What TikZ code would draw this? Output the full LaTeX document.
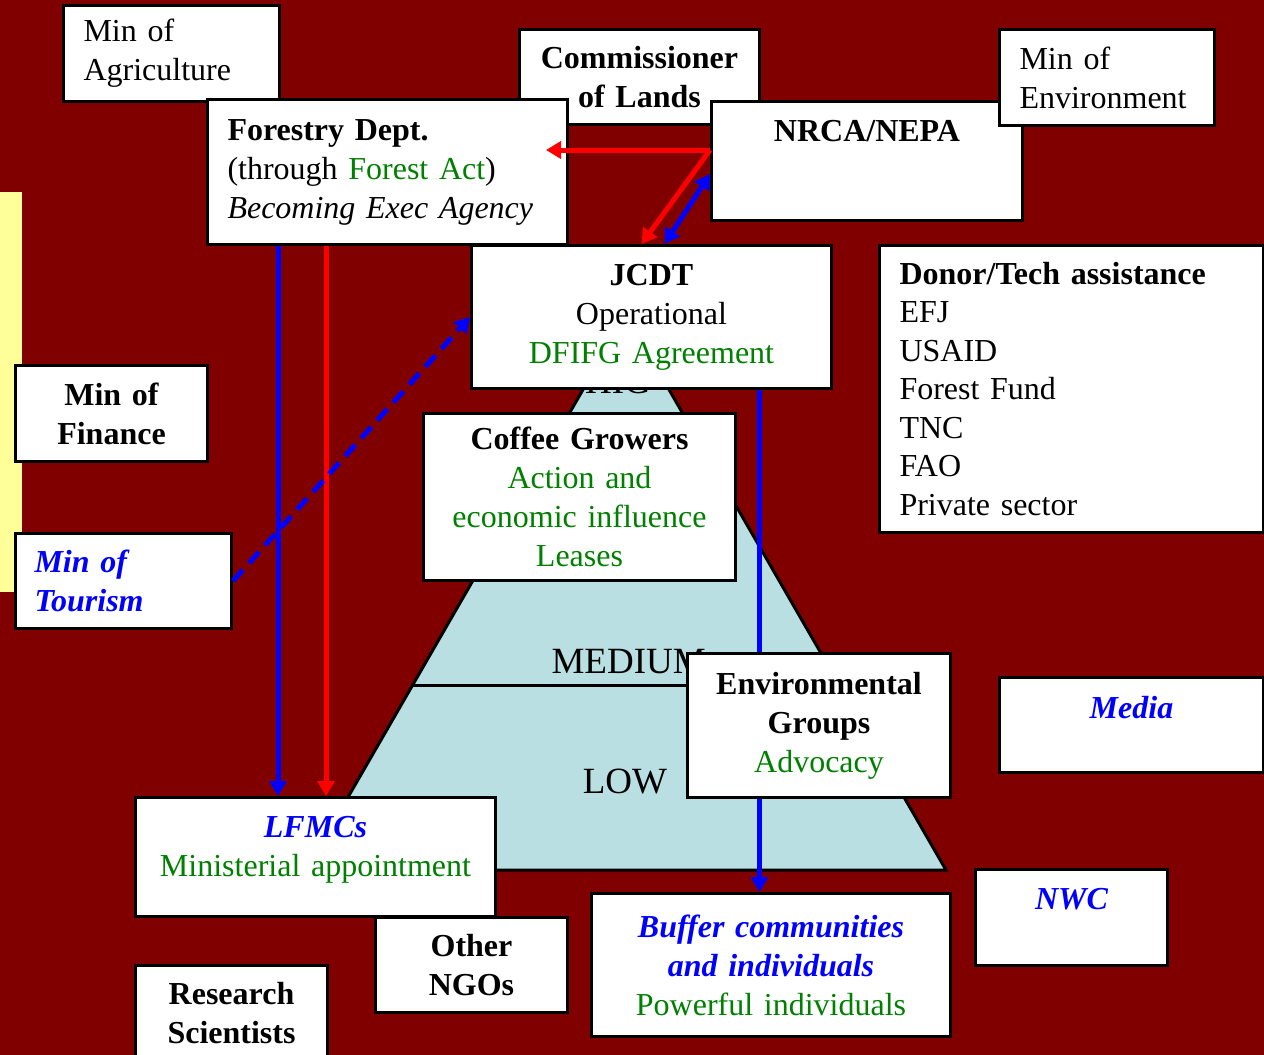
\documentclass[tikz,border=0pt]{standalone}
\usepackage{fontspec}
\setmainfont{Liberation Serif}
\usepackage{xcolor}
\usepackage{tikz}
\usetikzlibrary{arrows.meta,calc}
\definecolor{slidered}{RGB}{128,0,0}
\definecolor{pyramidblue}{RGB}{185,223,227}
\definecolor{noteyellow}{RGB}{255,255,153}
\definecolor{treegreen}{RGB}{0,128,0}
\newcommand{\actorname}[1]{\textcolor{blue}{\bfseries\itshape #1}}
\newcommand{\greennote}[1]{\textcolor{treegreen}{#1}}

\begin{document}
\begin{tikzpicture}[
    x=1pt, y=-1pt,
    font=\fontsize{32}{39}\selectfont,
    >={Triangle[length=15pt,width=17pt]},
    box/.style={draw=black, line width=3pt, fill=white, inner sep=0pt, anchor=north west},
    lbox/.style={box, align=left, inner xsep=20pt},
    cbox/.style={box, align=center, inner xsep=4pt},
    link/.style={line width=5pt, ->},
    level/.style={font=\fontsize{37}{40}\selectfont}
]
    % Background
    \useasboundingbox (0,0) rectangle (1264,1055);
    \fill[slidered] (0,0) rectangle (1264,1055);
    \fill[noteyellow] (0,192) rectangle (22,592);

    % Pyramid
    \coordinate (apex) at (626,315);
    \coordinate (baseR) at (946,870);
    \coordinate (baseL) at (306,870);
    \draw[line width=3pt, fill=pyramidblue] (apex) -- (baseR) -- (baseL) -- cycle;
    \draw[line width=3pt] ($(apex)!0.6667!(baseL)$) -- ($(apex)!0.6667!(baseR)$);
    \node[level, anchor=base] (hig) at (618,393) {HIG};
    \node[level, anchor=base west] (medium) at (548,673) {MEDIUM};
    \node[level, anchor=base] (low) at (625,793) {LOW};

    % Top row
    \node[lbox, text width=176pt, minimum height=96pt] (agri) at (62,4) {Min of\\Agriculture};
    \node[cbox, text width=232pt, minimum height=95pt, font=\fontsize{32}{39}\selectfont\bfseries] (lands) at (518,28) {Commissioner\\of Lands};
    \node[lbox, text width=320pt, minimum height=145pt] (forestry) at (206,98)
        {\textbf{Forestry Dept.}\\(through \greennote{Forest Act})\\\textit{Becoming Exec Agency}};
    \node[cbox, text width=303pt, text height=40pt, text depth=79pt, font=\fontsize{32}{39}\selectfont\bfseries] (nrca) at (710,100) {NRCA/NEPA};
    \node[lbox, text width=175pt, minimum height=96pt] (minenv) at (998,28) {Min of\\Environment};

    % Middle
    \node[cbox, text width=352pt, minimum height=143pt] (jcdt) at (470,244)
        {\textbf{JCDT}\\Operational\\\greennote{DFIFG Agreement}};
    \node[lbox, text width=344pt, minimum height=287pt, font=\fontsize{32}{38.5}\selectfont] (donor) at (878,244)
        {\textbf{Donor/Tech assistance}\\EFJ\\USAID\\Forest Fund\\TNC\\FAO\\Private sector};
    \node[cbox, text width=184pt, minimum height=96pt, font=\fontsize{32}{39}\selectfont\bfseries] (finance) at (14,364) {Min of\\Finance};
    \node[lbox, inner xsep=19pt, text width=178pt, minimum height=95pt] (tourism) at (14,532) {\actorname{Min of}\\\actorname{Tourism}};
    \node[cbox, text width=304pt, minimum height=167pt] (coffee) at (422,412)
        {\textbf{Coffee Growers}\\\greennote{Action and}\\\greennote{economic influence}\\\greennote{Leases}};

    % Bottom
    \node[cbox, text width=256pt, text height=41pt, text depth=54pt] (media) at (998,676) {\actorname{Media}};
    \node[cbox, text width=352pt, text height=40pt, text depth=79pt] (lfmc) at (134,796)
        {\actorname{LFMCs}\\\greennote{Ministerial appointment}};
    \node[cbox, text width=184pt, text height=40pt, text depth=56pt] (nwc) at (974,868) {\actorname{NWC}};
    \node[cbox, text width=351pt, minimum height=143pt] (buffer) at (590,892)
        {\actorname{Buffer communities}\\\actorname{and individuals}\\\greennote{Powerful individuals}};
    \node[cbox, text width=184pt, minimum height=95pt, font=\fontsize{32}{39}\selectfont\bfseries] (ngos) at (374,916) {Other\\NGOs};
    \node[cbox, text width=184pt, minimum height=96pt, font=\fontsize{32}{39}\selectfont\bfseries] (research) at (134,964) {Research\\Scientists};

    % JCDT down to buffer communities (behind Environmental Groups)
    \coordinate (jcdtout) at ([xshift=108pt]jcdt.south);
    \draw[link, blue] (jcdtout) -- (jcdtout |- buffer.north);
    \node[cbox, text width=255pt, minimum height=144pt] (envgroups) at (686,652)
        {\textbf{Environmental}\\\textbf{Groups}\\\greennote{Advocacy}};

    % Forestry Dept. down to LFMCs
    \coordinate (fdblue) at ([xshift=72pt]forestry.south west);
    \coordinate (fdred) at ([xshift=120pt]forestry.south west);
    \draw[link, blue] (fdblue) -- (fdblue |- lfmc.north);
    \draw[link, red] (fdred) -- (fdred |- lfmc.north);

    % NRCA/NEPA links
    \coordinate (nrcared) at ([yshift=11pt]nrca.west);
    \coordinate (nrcablue) at ([yshift=-13pt]nrca.west);
    \draw[link, red] (nrcared) -- ([xshift=-23pt]forestry.east |- nrcared);
    \draw[link, red] (nrcared) -- ([xshift=-10pt]jcdt.north);
    \draw[link, blue, <->] (nrcablue) -- ([xshift=13pt]jcdt.north);

    % Tourism to JCDT
    \draw[link, blue, dash pattern=on 15pt off 9pt] (tourism.east) -- (jcdt.west);
\end{tikzpicture}
\end{document}
